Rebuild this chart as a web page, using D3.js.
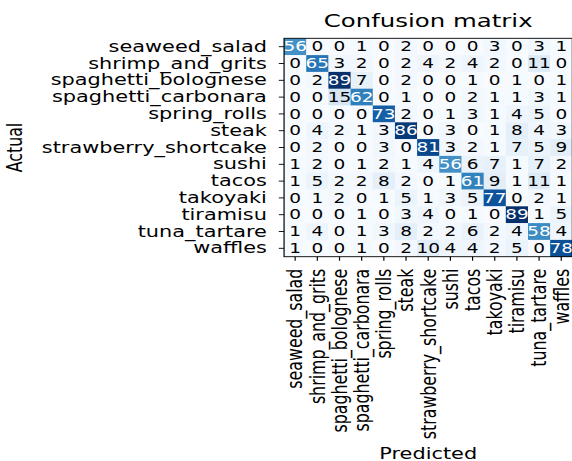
<!DOCTYPE html>
<html>
<head>
<meta charset="utf-8">
<script src="https://cdn.jsdelivr.net/npm/d3@7"></script>
<style>
  html, body { margin: 0; padding: 0; background: #fff; }
  svg { display: block; overflow: hidden; }
  text { font-family: "DejaVu Sans", sans-serif; }
</style>
</head>
<body>
<svg id="chart" width="572" height="461"></svg>
<script>
const categories = ["seaweed_salad", "shrimp_and_grits", "spaghetti_bolognese", "spaghetti_carbonara",
  "spring_rolls", "steak", "strawberry_shortcake", "sushi", "tacos", "takoyaki", "tiramisu",
  "tuna_tartare", "waffles"];

const row_seaweed_salad        = [56, 0, 0, 1, 0, 2, 0, 0, 0, 3, 0, 3, 1];
const row_shrimp_and_grits     = [0, 65, 3, 2, 0, 2, 4, 2, 4, 2, 0, 11, 0];
const row_spaghetti_bolognese  = [0, 2, 89, 7, 0, 2, 0, 0, 1, 0, 1, 0, 1];
const row_spaghetti_carbonara  = [0, 0, 15, 62, 0, 1, 0, 0, 2, 1, 1, 3, 1];
const row_spring_rolls         = [0, 0, 0, 0, 73, 2, 0, 1, 3, 1, 4, 5, 0];
const row_steak                = [0, 4, 2, 1, 3, 86, 0, 3, 0, 1, 8, 4, 3];
const row_strawberry_shortcake = [0, 2, 0, 0, 3, 0, 81, 3, 2, 1, 7, 5, 9];
const row_sushi                = [1, 2, 0, 1, 2, 1, 4, 56, 6, 7, 1, 7, 2];
const row_tacos                = [1, 5, 2, 2, 8, 2, 0, 1, 61, 9, 1, 11, 1];
const row_takoyaki             = [0, 1, 2, 0, 1, 5, 1, 3, 5, 77, 0, 2, 1];
const row_tiramisu             = [0, 0, 0, 1, 0, 3, 4, 0, 1, 0, 89, 1, 5];
const row_tuna_tartare         = [1, 4, 0, 1, 3, 8, 2, 2, 6, 2, 4, 58, 4];
const row_waffles              = [1, 0, 0, 1, 0, 2, 10, 4, 4, 2, 5, 0, 78];

const matrix = [row_seaweed_salad, row_shrimp_and_grits, row_spaghetti_bolognese, row_spaghetti_carbonara,
  row_spring_rolls, row_steak, row_strawberry_shortcake, row_sushi, row_tacos, row_takoyaki,
  row_tiramisu, row_tuna_tartare, row_waffles];

const titleText = "Confusion matrix";
const xLabel = "Predicted";
const yLabel = "Actual";

// layout (unscaled units; whole figure is stretched horizontally)
const sx = 1.32;
const x0 = 215.2, y0 = 38.3, size = 218.4;

const svg = d3.select("#chart");
const g = svg.append("g").attr("transform", `scale(${sx},1)`);

const x = d3.scaleBand().domain(categories).range([x0, x0 + size]);
const y = d3.scaleBand().domain(categories).range([y0, y0 + size]);
const vmax = d3.max(matrix, r => d3.max(r));
const color = d3.scaleSequential(d3.interpolateBlues).domain([0, vmax]);

const cells = [];
matrix.forEach((r, i) => r.forEach((v, j) => cells.push({ a: categories[i], p: categories[j], v })));

g.append("g").selectAll("rect").data(cells).join("rect")
  .attr("x", d => x(d.p)).attr("y", d => y(d.a))
  .attr("width", x.bandwidth() + 0.3).attr("height", y.bandwidth() + 0.3)
  .attr("fill", d => color(d.v));

g.append("g").selectAll("text").data(cells).join("text")
  .attr("x", d => x(d.p) + x.bandwidth() / 2)
  .attr("y", d => y(d.a) + y.bandwidth() / 2)
  .attr("text-anchor", "middle")
  .attr("dominant-baseline", "central")
  .attr("font-size", 14)
  .attr("fill", d => d.v > vmax / 2 ? "#ffffff" : "#000000")
  .text(d => d.v);

// frame
g.append("rect").attr("x", x0).attr("y", y0).attr("width", size).attr("height", size)
  .attr("fill", "none").attr("stroke", "#000").attr("stroke-width", 0.9);

// y axis
const yAxis = d3.axisLeft(y).tickSize(4).tickPadding(9);
const ya = g.append("g").attr("transform", `translate(${x0},0)`).call(yAxis);
ya.select(".domain").remove();
ya.selectAll("text").attr("font-size", 15.8).attr("font-family", "DejaVu Sans").attr("fill", "#000");
ya.selectAll("line").attr("stroke", "#000").attr("stroke-width", 0.9);

// x axis
const xAxis = d3.axisBottom(x).tickSize(4);
const xa = g.append("g").attr("transform", `translate(0,${y0 + size})`).call(xAxis);
xa.select(".domain").remove();
xa.selectAll("line").attr("stroke", "#000").attr("stroke-width", 0.9);
xa.selectAll("text")
  .attr("font-size", 15.8).attr("font-family", "DejaVu Sans").attr("fill", "#000")
  .attr("text-anchor", "end")
  .attr("dominant-baseline", "central")
  .attr("dy", null)
  .attr("y", 0)
  .attr("transform", "translate(0,12) rotate(-90)");

// title and labels
g.append("text").attr("x", x0 + size / 2).attr("y", 27)
  .attr("text-anchor", "middle").attr("font-size", 18.5).text(titleText);

g.append("text").attr("x", x0 + size / 2).attr("y", 459)
  .attr("text-anchor", "middle").attr("font-size", 15.8).text(xLabel);

g.append("text")
  .attr("transform", `translate(11.4,${y0 + size / 2}) rotate(-90)`)
  .attr("text-anchor", "middle").attr("dominant-baseline", "central")
  .attr("font-size", 15.8).text(yLabel);
</script>
</body>
</html>
